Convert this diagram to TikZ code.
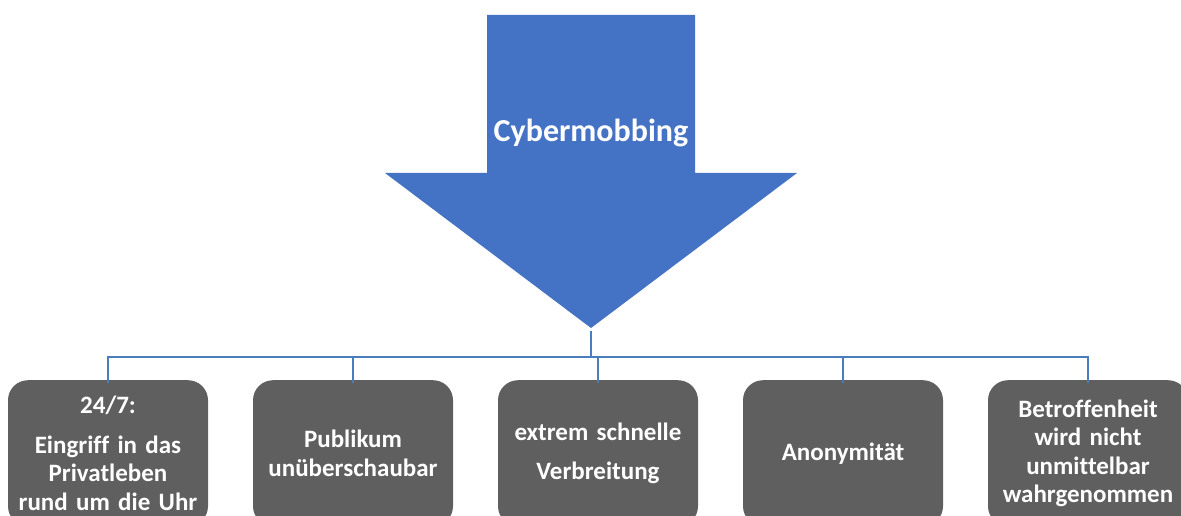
\documentclass[tikz,border=0pt]{standalone}
\usepackage{fontspec}
\setmainfont{Carlito}[Ligatures=NoCommon]
\usetikzlibrary{positioning}
\definecolor{pfeilblau}{HTML}{4472C4}
\definecolor{kastengrau}{HTML}{5F5F5F}
\definecolor{linienblau}{HTML}{4A7EBB}
\tikzset{
  kasten/.style={anchor=north, fill=kastengrau, text=white, rounded corners=20pt, minimum width=200pt, minimum height=146pt, text width=198pt, align=center, inner sep=1pt, font=\bfseries\fontsize{25}{28.5}\selectfont},
  linie/.style={color=linienblau, line width=1.8pt}
}

\begin{document}
\begin{tikzpicture}[x=1pt, y=-1pt]
        \useasboundingbox (0,0) rectangle (1181,516);
        \clip (0,0) rectangle (1181,516);
        \fill[pfeilblau] (487,15) -- (695,15) -- (695,173) -- (797,173) -- (591,328) -- (385,173) -- (487,173) -- cycle;
        \node[text=white, font=\bfseries\fontsize{32}{38}\selectfont] (titel) at (591,133) {Cybermobbing};
        \coordinate (spitze) at (591,331);
        \coordinate (schiene) at (591,357);

        \node[kasten] (k1) at (108,380) {24/7:\\[11pt] Eingriff in das\\ Privatleben\\ rund um die Uhr};
        \node[kasten] (k2) at (353,380) {Publikum\\ unüberschaubar};
        \node[kasten] (k3) at (598,380) {extrem schnelle\\[10pt] Verbreitung};
        \node[kasten] (k4) at (843,380) {Anonymität};
        \node[kasten] (k5) at (1088,380) {Betroffenheit\\ wird nicht\\ unmittelbar\\ wahrgenommen};

        \draw[linie] (spitze) -- (schiene);
        \draw[linie] ([yshift=-3pt]k1.north) |- (schiene) -| ([yshift=-3pt]k5.north);
        \foreach \k in {k2,k3,k4} \draw[linie] (\k.north |- schiene) -- ([yshift=-3pt]\k.north);
\end{tikzpicture}
\end{document}
